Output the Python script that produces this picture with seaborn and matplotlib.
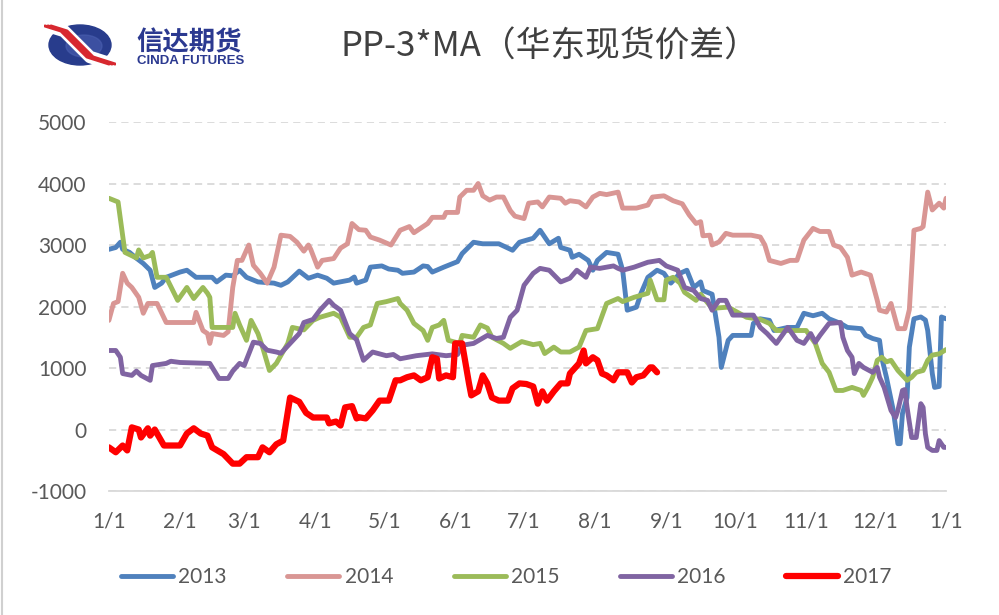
import matplotlib
matplotlib.use("Agg")
import matplotlib.pyplot as plt
import pandas as pd
import seaborn as sns
from matplotlib.patches import Ellipse
from matplotlib.lines import Line2D

# x = day of year (0 = 1/1), y = spread
days_2013 = [0, 3, 5, 6, 9, 12, 15, 18, 20, 23, 25, 31, 34, 38, 45, 47, 51, 54, 57, 60, 65, 72, 75, 78, 83, 87, 91,
             95, 98, 105, 107, 108, 112, 114, 119, 122, 126, 128, 133, 137, 139, 141, 146, 150, 152, 154, 159, 163,
             170, 176, 179, 185, 188, 192, 196, 197, 201, 202, 205, 209, 211, 213, 217, 222, 224, 226, 230, 232, 235,
             239, 242, 245, 249, 252, 255, 258, 259, 263, 266, 267, 270, 272, 280, 281, 284, 288, 290, 296, 300, 303,
             307, 311, 314, 319, 322, 328, 330, 333, 336, 337, 339, 342, 344, 345, 346, 348, 349, 351, 354, 356, 357,
             359, 360, 362, 363, 365]
vals_2013 = [2930, 2960, 3045, 2930, 2880, 2785, 2700, 2590, 2310, 2380, 2475, 2560, 2590, 2475, 2475, 2400, 2510,
             2500, 2590, 2475, 2400, 2380, 2345, 2400, 2575, 2460, 2510, 2460, 2380, 2430, 2480, 2380, 2430, 2640,
             2660, 2610, 2590, 2540, 2560, 2660, 2650, 2560, 2640, 2700, 2730, 2860, 3045, 3020, 3020, 2915, 3045,
             3110, 3240, 3020, 3110, 2960, 2915, 2800, 2850, 2750, 2590, 2750, 2880, 2850, 2590, 1940, 1990, 2215,
             2475, 2590, 2540, 2380, 2540, 2590, 2310, 2400, 2260, 2200, 1500, 1010, 1450, 1530, 1530, 1725, 1800,
             1775, 1610, 1660, 1660, 1890, 1850, 1890, 1800, 1725, 1660, 1640, 1530, 1480, 1450, 1160, 850, 310,
             -230, -230, 260, 520, 1340, 1800, 1830, 1780, 1610, 910, 685, 700, 1830, 1800]

days_2014 = [0, 2, 4, 6, 8, 10, 13, 15, 17, 21, 25, 37, 38, 41, 43, 44, 45, 50, 52, 54, 56, 58, 61, 63, 66, 69, 72,
             75, 79, 82, 85, 87, 88, 91, 93, 98, 101, 104, 106, 109, 112, 114, 118, 123, 127, 131, 133, 139, 141,
             146, 147, 152, 153, 156, 159, 161, 163, 166, 169, 172, 175, 177, 181, 183, 187, 189, 192, 197, 199, 201,
             205, 208, 211, 214, 217, 222, 224, 230, 235, 237, 242, 246, 250, 253, 256, 258, 259, 262, 263, 266, 269,
             272, 280, 284, 286, 288, 293, 297, 300, 303, 307, 310, 314, 316, 319, 322, 324, 328, 332, 335, 336, 339,
             341, 343, 344, 347, 349, 351, 354, 355, 357, 359, 362, 364, 365]
vals_2014 = [1775, 2050, 2080, 2540, 2380, 2310, 2150, 1890, 2050, 2050, 1740, 1740, 1905, 1610, 1560, 1400, 1560,
             1530, 1590, 2310, 2750, 2750, 3000, 2670, 2540, 2380, 2640, 3160, 3140, 3045, 2900, 3000, 2930, 2640,
             2750, 2780, 2950, 3020, 3350, 3250, 3240, 3130, 3080, 3000, 3240, 3300, 3200, 3350, 3450, 3450, 3530,
             3530, 3780, 3890, 3890, 4000, 3800, 3730, 3780, 3780, 3560, 3470, 3430, 3680, 3700, 3620, 3780, 3760,
             3680, 3720, 3700, 3620, 3780, 3840, 3820, 3860, 3600, 3600, 3650, 3780, 3800, 3720, 3670, 3490, 3350,
             3380, 3150, 3160, 3000, 3050, 3190, 3160, 3160, 3130, 3000, 2750, 2700, 2750, 2750, 3080, 3270, 3220,
             3220, 3000, 2960, 2800, 2510, 2560, 2510, 2100, 1940, 1910, 2050, 1775, 1640, 1640, 1950, 3240, 3270,
             3300, 3860, 3570, 3680, 3600, 3760]

days_2015 = [0, 4, 7, 12, 13, 15, 18, 19, 21, 25, 30, 34, 37, 41, 43, 44, 45, 54, 55, 57, 60, 62, 65, 67, 70, 73, 78,
             80, 85, 89, 92, 98, 101, 105, 108, 111, 114, 117, 121, 126, 127, 130, 133, 137, 139, 141, 144, 146, 148,
             153, 154, 159, 162, 165, 167, 172, 175, 180, 185, 188, 190, 194, 197, 201, 205, 208, 213, 217, 222, 224,
             229, 235, 236, 239, 242, 243, 246, 249, 251, 256, 258, 263, 270, 278, 284, 288, 291, 304, 308, 311, 314,
             317, 320, 324, 328, 329, 331, 333, 335, 337, 339, 341, 344, 346, 348, 350, 352, 355, 357, 359, 362, 365]
vals_2015 = [3760, 3700, 2880, 2790, 2920, 2790, 2830, 2880, 2475, 2475, 2100, 2310, 2130, 2310, 2215, 2150, 1660,
             1660, 1890, 1700, 1450, 1775, 1560, 1340, 960, 1075, 1400, 1660, 1620, 1775, 1825, 1890, 1825, 1500,
             1500, 1660, 1700, 2050, 2080, 2130, 2050, 1940, 1725, 1610, 1450, 1660, 1700, 1775, 1450, 1400, 1530,
             1500, 1700, 1650, 1500, 1400, 1320, 1430, 1380, 1400, 1235, 1340, 1260, 1260, 1340, 1610, 1640, 2050,
             2130, 2080, 2150, 2215, 2430, 2110, 2110, 2430, 2475, 2380, 2230, 2100, 2200, 1970, 1990, 1825, 1790,
             1725, 1610, 1610, 1400, 1075, 930, 635, 635, 685, 635, 555, 690, 850, 1125, 1175, 1100, 1125, 960, 880,
             800, 850, 930, 960, 1125, 1210, 1230, 1300]

days_2016 = [0, 3, 5, 6, 10, 12, 14, 18, 19, 25, 27, 31, 44, 48, 52, 54, 57, 59, 63, 66, 69, 73, 75, 79, 83, 85, 89,
             92, 96, 98, 101, 105, 108, 111, 115, 121, 124, 127, 134, 141, 147, 152, 154, 159, 165, 169, 172, 175,
             178, 181, 185, 188, 192, 197, 201, 204, 208, 210, 214, 220, 222, 224, 229, 235, 240, 243, 248, 251, 255,
             258, 261, 263, 266, 269, 272, 281, 284, 287, 291, 296, 300, 303, 306, 308, 310, 314, 319, 320, 322, 324,
             325, 327, 329, 333, 335, 336, 338, 341, 343, 344, 346, 347, 348, 350, 352, 354, 355, 356, 357, 359, 361,
             362, 364, 365]
vals_2016 = [1285, 1285, 1175, 910, 880, 950, 880, 800, 1040, 1075, 1110, 1090, 1075, 830, 830, 950, 1075, 1040,
             1420, 1400, 1290, 1260, 1240, 1400, 1560, 1740, 1790, 1940, 2100, 2020, 1940, 1560, 1460, 1125, 1260,
             1200, 1220, 1150, 1200, 1230, 1200, 1220, 1370, 1400, 1530, 1480, 1500, 1825, 1940, 2345, 2540, 2620,
             2590, 2400, 2460, 2590, 2475, 2640, 2620, 2660, 2620, 2590, 2640, 2720, 2750, 2660, 2590, 2310, 2260,
             2130, 2100, 1940, 2100, 2100, 1860, 1860, 1660, 1560, 1400, 1660, 1450, 1400, 1560, 1420, 1530, 1725,
             1740, 1500, 1285, 1175, 910, 1075, 1010, 930, 1010, 850, 685, 310, 195, 310, 635, 650, 360, -130, -130,
             420, 360, -70, -290, -340, -340, -180, -290, -290]

days_2017 = [0, 3, 6, 8, 10, 13, 14, 17, 18, 20, 24, 31, 34, 37, 40, 43, 45, 50, 54, 57, 60, 65, 67, 70, 73, 76, 79,
             83, 86, 89, 95, 96, 99, 101, 103, 106, 108, 109, 112, 115, 118, 122, 125, 127, 130, 133, 136, 139, 141,
             143, 144, 147, 150, 151, 154, 157, 158, 161, 163, 165, 167, 170, 174, 176, 179, 182, 185, 187, 189, 191,
             194, 197, 200, 201, 205, 207, 208, 211, 213, 215, 217, 220, 222, 226, 228, 230, 233, 236, 237, 239]
vals_2017 = [-290, -370, -260, -340, 35, 0, -130, 20, -100, 0, -260, -260, -65, 20, -65, -100, -290, -400, -555,
             -555, -450, -450, -290, -370, -240, -180, 520, 450, 270, 195, 195, 100, 130, 65, 360, 380, 180, 200, 180,
             310, 470, 470, 800, 800, 850, 880, 800, 850, 1175, 1150, 830, 880, 850, 1400, 1400, 750, 555, 620, 880,
             750, 520, 470, 470, 670, 750, 740, 700, 420, 620, 470, 620, 750, 750, 910, 1075, 1285, 1075, 1175, 1125,
             910, 880, 800, 930, 930, 765, 850, 880, 1010, 1010, 930]

years = ["2013", "2014", "2015", "2016", "2017"]
colors = ["#4f81bd", "#d99694", "#9bbb59", "#8064a2", "#ff0000"]
widths = [3.5, 3.5, 3.5, 3.5, 4.5]

month_days = [0, 31, 59, 90, 120, 151, 181, 212, 243, 273, 304, 334, 365]
month_labels = ["1/1", "2/1", "3/1", "4/1", "5/1", "6/1", "7/1", "8/1", "9/1", "10/1", "11/1", "12/1", "1/1"]

all_days = [days_2013, days_2014, days_2015, days_2016, days_2017]
all_vals = [vals_2013, vals_2014, vals_2015, vals_2016, vals_2017]
df = pd.concat([pd.DataFrame({"day": d, "value": v, "year": y})
                for d, v, y in zip(all_days, all_vals, years)], ignore_index=True)

sns.set_style("white")
plt.rcParams["font.family"] = ["Lato", "DejaVu Sans"]
plt.rcParams["axes.unicode_minus"] = False

fig = plt.figure(figsize=(9.99, 6.15), dpi=100)
ax = fig.add_axes([0.109, 0.2016, 0.838, 0.600])

sns.lineplot(data=df, x="day", y="value", hue="year",
             palette=dict(zip(years, colors)),
             estimator=None, sort=False, legend=False, ax=ax)
# seaborn draws one line per year, in hue order
for ln, w in zip(ax.lines, widths):
    ln.set_linewidth(w)
    ln.set_solid_joinstyle("round")
    ln.set_solid_capstyle("round")

ax.set_xlim(0, 365)
ax.set_ylim(-1000, 5000)
ax.set_yticks(range(-1000, 5001, 1000))
ax.set_xticks(month_days)
ax.set_xticklabels(month_labels)
ax.set_xlabel("")
ax.set_ylabel("")

ax.yaxis.grid(True, linestyle=(0, (4, 2.8)), color="#d9d9d9", lw=1.3)
ax.xaxis.grid(False)
for s in ["top", "right", "left"]:
    ax.spines[s].set_visible(False)
ax.spines["bottom"].set_color("#d9d9d9")
ax.spines["bottom"].set_linewidth(1.3)
ax.tick_params(axis="y", length=0, pad=16, labelsize=15, labelcolor="#595959")
ax.tick_params(axis="x", length=6, width=1.3, color="#d9d9d9", direction="out", pad=9,
               labelsize=15, labelcolor="#595959")

handles = [Line2D([0], [0], color=c, lw=w, solid_capstyle="round") for c, w in zip(colors, widths)]
fig.legend(handles, years, loc="center", bbox_to_anchor=(0.507, 0.062), ncol=5, frameon=False,
           fontsize=15, handlelength=2.5, handletextpad=0.25, columnspacing=2.9, labelcolor="#595959")

# title
fig.text(0.5506, 0.924, "PP-3*MA（华东现货价差）", ha="center", va="center", fontsize=25, color="#404040",
         family=["Noto Sans CJK SC", "DejaVu Sans"])

# logo
lax = fig.add_axes([44 / 999, 1 - 68 / 615, 72 / 999, 46 / 615])
lax.set_xlim(0, 72)
lax.set_ylim(0, 46)
lax.axis("off")
lax.add_patch(Ellipse((36, 23), 62, 40, color="#283c8c"))
lax.add_patch(Ellipse((40, 22), 36, 22, color="#4a5fb0", alpha=0.6))
for off, c, w in [(0, "white", 9), (-3, "#d7282f", 2.2), (0, "#d7282f", 2.2), (3, "#d7282f", 2.2)]:
    lax.plot([4 + off, 20 + off, 46 + off, 68 + off], [42, 37, 11, 4], color=c, lw=w, solid_capstyle="round")

fig.text(136 / 999, 1 - 43 / 615, "信达期货", ha="left", va="center", fontsize=19, fontweight="bold",
         color="#2b3990", family=["Noto Sans CJK SC", "DejaVu Sans"])
fig.text(137 / 999, 1 - 61 / 615, "CINDA FUTURES", ha="left", va="center", fontsize=9.5, fontweight="bold",
         color="#2b3990", family=["Liberation Sans", "DejaVu Sans"])

fig.add_artist(Line2D([0.002, 0.002], [0, 1], color="#d0d0d0", lw=1.5))

fig.savefig("out.png", dpi=100)
